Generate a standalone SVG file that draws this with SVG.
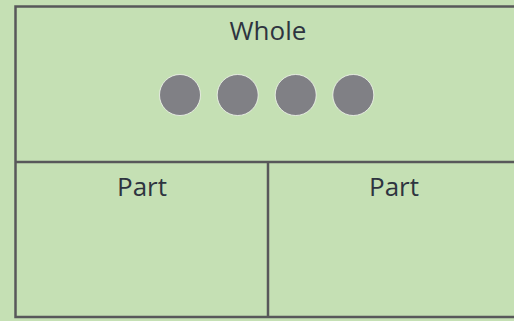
<svg xmlns="http://www.w3.org/2000/svg" width="514" height="321" viewBox="0 0 514 321">
<style>
.bg{fill:#c5e0b4}
.ln{stroke:#58585a;stroke-width:2.5;fill:none}
.t{font-family:"Open Sans","Liberation Sans",sans-serif;font-size:26px;fill:#2e3440;text-anchor:middle}
.c{fill:#808085;stroke:#f4f8f0;stroke-width:0.8}
</style>
<rect class="bg" x="0" y="0" width="514" height="321"/>
<g id="frame">
<path class="ln" d="M514,6.5 H15.5 V317 H514"/>
</g>
<g id="connectors">
<line class="ln" x1="15.5" y1="162" x2="514" y2="162"/>
<line class="ln" x1="268" y1="162" x2="268" y2="317"/>
</g>
<g id="whole">
<text class="t" x="268" y="40">Whole</text>
<circle class="c" cx="180" cy="95" r="20.5"/>
<circle class="c" cx="237.7" cy="95" r="20.5"/>
<circle class="c" cx="295.7" cy="95" r="20.5"/>
<circle class="c" cx="353.3" cy="95" r="20.5"/>
</g>
<g id="part1">
<text class="t" x="142" y="196">Part</text>
</g>
<g id="part2">
<text class="t" x="394" y="196">Part</text>
</g>
</svg>
